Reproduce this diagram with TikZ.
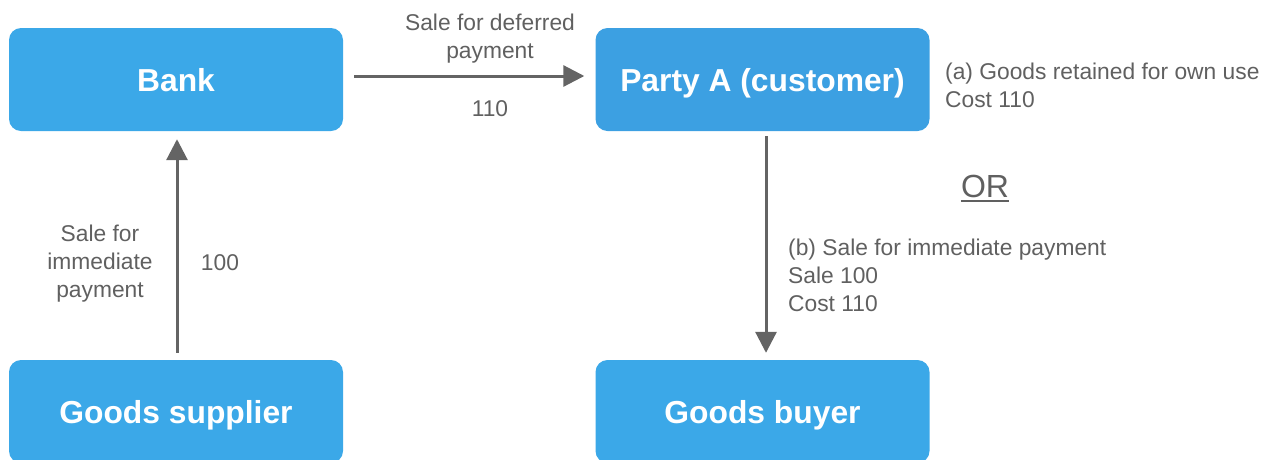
\documentclass[tikz,border=0pt]{standalone}
\usepackage{fontspec}
\setmainfont{Liberation Sans}
\usetikzlibrary{arrows.meta}
\definecolor{boxblue}{RGB}{59,168,232}
\definecolor{partyblue}{RGB}{60,160,226}
\definecolor{txtgray}{RGB}{96,96,96}
\definecolor{arrgray}{RGB}{100,100,100}
\begin{document}
\begin{tikzpicture}[x=1pt,y=-1pt,
  box/.style={fill=boxblue, rounded corners=12pt, minimum width=334pt, minimum height=103pt, inner sep=0pt, text=white, text height=30pt, text depth=7pt, font=\fontsize{31.8}{36}\selectfont\bfseries},
  conn/.style={draw=arrgray, line width=3pt, -{Triangle[length=21pt,width=21pt]}},
  lbl/.style={text=txtgray, font=\fontsize{22.8}{28}\selectfont, inner sep=0pt}]
\useasboundingbox (0,0) rectangle (1275,459);
\clip (0,0) rectangle (1275,459);
\node[box] (bank) at (176,79.5) {Bank};
\node[box, fill=partyblue] (party) at (762.5,79.5) {Party A (customer)};
\node[box] (supplier) at (176,411.5) {Goods supplier};
\node[box] (buyer) at (762.5,411.5) {Goods buyer};
\draw[conn] ([xshift=11pt,yshift=3.5pt]bank.east) -- ([xshift=-11pt,yshift=3.5pt]party.west);
\draw[conn] ([xshift=1pt,yshift=7pt]supplier.north) -- ([xshift=1pt,yshift=-8pt]bank.south);
\draw[conn] ([xshift=3.5pt,yshift=-5pt]party.south) -- ([xshift=3.5pt,yshift=7pt]buyer.north);
\node[lbl, align=center] (l1) at (490,38.5) {Sale for deferred\\payment};
\node[lbl] (l2) at (490,109) {110};
\node[lbl, align=center] (l3) at (100,263.5) {Sale for\\immediate\\payment};
\node[lbl] (l4) at (220,262.5) {100};
\node[lbl, align=left, anchor=west] (la) at (945,85) {(a) Goods retained for own use\\Cost 110};
\node[lbl, align=left, anchor=west] (lb) at (788,275.5) {(b) Sale for immediate payment\\Sale 100\\Cost 110};
\node[lbl, font=\fontsize{32}{36}\selectfont] (or) at (985,186) {OR};
\draw[txtgray, line width=1.8pt] ([yshift=-4pt]or.base west) -- ([yshift=-4pt]or.base east);
\end{tikzpicture}
\end{document}
